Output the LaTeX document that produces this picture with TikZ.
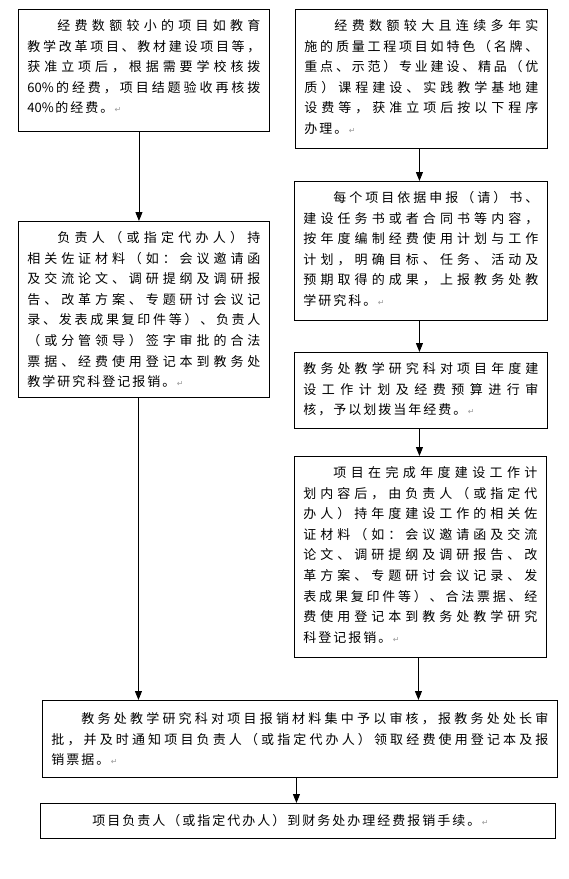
\documentclass[tikz,border=0pt]{standalone}
\usepackage{fontspec}
\setmainfont{Noto Sans CJK SC}
\newfontfamily\parmarkfont{DejaVu Sans}
\usepackage{xcolor}
\usetikzlibrary{arrows.meta}
\definecolor{fcInk}{HTML}{000000}
\definecolor{fcMark}{HTML}{9A9A9A}
\XeTeXinterchartokenstate=1
\newcount\cjkcode
\cjkcode="4E00
\loop
  \XeTeXcharclass\cjkcode=1
  \advance\cjkcode by 1
\ifnum\cjkcode<"A000\repeat
\XeTeXcharclass"3001=1
\XeTeXcharclass"3002=1
\XeTeXcharclass"FF08=1
\XeTeXcharclass"FF09=1
\XeTeXcharclass"FF0C=1
\XeTeXcharclass"FF1A=1
\XeTeXinterchartoks 1 1 = {\nobreak\hskip 2pt plus 4pt minus 1pt\relax}
\XeTeXinterchartoks 0 1 = {\nobreak\hskip 1.5pt plus 3pt minus 1pt\relax}
\XeTeXinterchartoks 1 0 = {\nobreak\hskip 1.5pt plus 3pt minus 1pt\relax}
\newcommand{\parmark}{{\parmarkfont\fontsize{8pt}{8pt}\selectfont\color{fcMark}\,↵}}
\tikzset{
  flow box/.style={draw=fcInk, line width=0.9pt, anchor=north west,
    inner xsep=9pt, inner ysep=0pt, align=justify, text height=21pt,
    font={\fontsize{13pt}{20.6pt}\selectfont}},
  flow arrow/.style={-{Triangle[length=9pt,width=7pt]}, draw=fcInk, line width=0.9pt}
}
\begin{document}
\begin{tikzpicture}[x=1pt,y=-1pt]
\useasboundingbox[fill=white] (0,0) rectangle (569,879);
\node[flow box, text width=233pt, text depth=101pt] (small) at (18,9) {\hspace*{30pt}经费数额较小的项目如教育\linebreak
教学改革项目、教材建设项目等，\linebreak
获准立项后，根据需要学校核拨\linebreak
60\%的经费，项目结题验收再核拨\linebreak
40\%的经费。\parmark};
\node[flow box, text width=234pt, text depth=118pt] (large) at (295,9) {\hspace*{30pt}经费数额较大且连续多年实\linebreak
施的质量工程项目如特色（名牌、\linebreak
重点、示范）专业建设、精品（优\linebreak
质）课程建设、实践教学基地建\linebreak
设费等，获准立项后按以下程序\linebreak
办理。\parmark};
\node[flow box, text width=233pt, text depth=155pt] (claimA) at (18,221) {\hspace*{30pt}负责人（或指定代办人）持\linebreak
相关佐证材料（如：会议邀请函\linebreak
及交流论文、调研提纲及调研报\linebreak
告、改革方案、专题研讨会议记\linebreak
录、发表成果复印件等）、负责人\linebreak
（或分管领导）签字审批的合法\linebreak
票据、经费使用登记本到教务处\linebreak
教学研究科登记报销。\parmark};
\node[flow box, text width=235pt, text depth=118pt] (plan) at (294,181) {\hspace*{30pt}每个项目依据申报（请）书、\linebreak
建设任务书或者合同书等内容，\linebreak
按年度编制经费使用计划与工作\linebreak
计划，明确目标、任务、活动及\linebreak
预期取得的成果，上报教务处教\linebreak
学研究科。\parmark};
\node[flow box, text width=235pt, text depth=55pt] (review) at (294,352) {教务处教学研究科对项目年度建\linebreak
设工作计划及经费预算进行审\linebreak
核，予以划拨当年经费。\parmark};
\node[flow box, text width=234pt, text depth=180pt] (claimB) at (294,456) {\hspace*{30pt}项目在完成年度建设工作计\linebreak
划内容后，由负责人（或指定代\linebreak
办人）持年度建设工作的相关佐\linebreak
证材料（如：会议邀请函及交流\linebreak
论文、调研提纲及调研报告、改\linebreak
革方案、专题研讨会议记录、发\linebreak
表成果复印件等）、合法票据、经\linebreak
费使用登记本到教务处教学研究\linebreak
科登记报销。\parmark};
\node[flow box, text width=497pt, text height=23pt, text depth=54pt] (check) at (42,700) {\hspace*{30pt}教务处教学研究科对项目报销材料集中予以审核，报教务处处长审\linebreak
批，并及时通知项目负责人（或指定代办人）领取经费使用登记本及报\linebreak
销票据。\parmark};
\node[flow box, text width=497pt, text height=22.5pt, text depth=12.5pt] (finance) at (40,803) {\hspace*{43pt}项目负责人（或指定代办人）到财务处办理经费报销手续。\parmark};
\draw[flow arrow] ([xshift=-5pt]small.south) -- ([xshift=-5pt]small.south |- claimA.north);
\draw[flow arrow] ([xshift=-2pt]large.south) -- ([xshift=-2pt]large.south |- plan.north);
\draw[flow arrow] ([xshift=-1.5pt]plan.south) -- ([xshift=-1.5pt]plan.south |- review.north);
\draw[flow arrow] ([xshift=-1.5pt]review.south) -- ([xshift=-1.5pt]review.south |- claimB.north);
\draw[flow arrow] ([xshift=-5.5pt]claimA.south) -- ([xshift=-5.5pt]claimA.south |- check.north);
\draw[flow arrow] ([xshift=-2pt]claimB.south) -- ([xshift=-2pt]claimB.south |- check.north);
\draw[flow arrow] ([xshift=-3.5pt]check.south) -- ([xshift=-3.5pt]check.south |- finance.north);
\end{tikzpicture}
\end{document}
